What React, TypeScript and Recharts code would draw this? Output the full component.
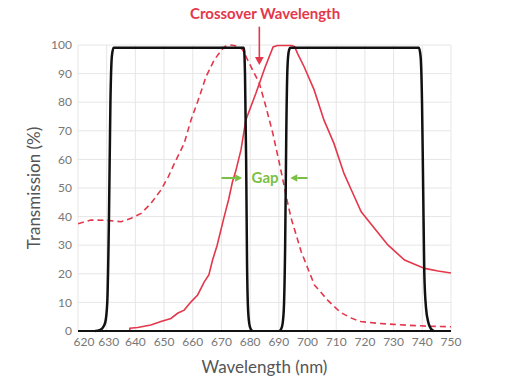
import React from "react";
import {
  LineChart,
  Line,
  XAxis,
  YAxis,
  CartesianGrid,
  ReferenceLine,
  ReferenceDot,
  Label,
} from "recharts";

// filter transmission bands (black)
const filterAX = [626, 627.5, 628.5, 629.5, 630.2, 630.8, 631.3, 631.8, 632.4, 677.8, 678.2, 678.6, 678.9, 679.3, 679.9, 680.7];
const filterAY = [0, 0.3, 1, 3, 10, 40, 80, 96, 99, 99, 90, 60, 25, 7, 1.5, 0];
const filterBX = [690.3, 691.1, 691.7, 692.2, 692.6, 693, 693.5, 694, 738.8, 739.4, 739.9, 740.3, 740.7, 741.3, 742.1, 743, 744];
const filterBY = [0, 1.5, 7, 30, 70, 92, 98, 99, 99, 96, 80, 50, 20, 8, 3, 0.8, 0];

// excitation spectrum (dashed red)
const dashX = [620, 624.5, 630, 635, 638.5, 642, 645.4, 648.9, 651.5, 653.6, 657, 659.4, 662.3, 664.6, 667.5, 669.5, 671, 673, 674.4, 676, 677.4, 679.7, 683.2, 685.5, 687.9, 690.2, 691.9, 692.7, 694.3, 697.8, 702.4, 707, 711.5, 715.3, 718.5, 724.3, 730, 735.3, 741.5, 750];
const dashY = [37.5, 38.8, 38.7, 38.2, 39.4, 41.1, 44.6, 49.3, 54, 58.6, 65.6, 73.8, 81.9, 88.9, 94.8, 97.5, 99.4, 100, 99.8, 99.5, 98.3, 93.6, 86.6, 78.4, 69.1, 58.6, 50.5, 46.4, 39.4, 27.7, 16.1, 10.8, 6.5, 4.5, 3.3, 2.7, 2.3, 2, 1.7, 1.5];

// emission spectrum (solid red)
const solidX = [638, 638.1, 640.8, 645.4, 648.9, 652.4, 654.7, 657, 659.4, 661.7, 664, 665.6, 666.9, 668.5, 670.8, 672.5, 673.8, 675, 676.8, 678.5, 682, 685.3, 688, 689.5, 694.5, 695.5, 696.5, 698.8, 702.3, 705.7, 709.2, 712.7, 715, 718.7, 723.3, 728, 733.8, 740.8, 745.5, 750];
const solidY = [0, 1, 1.2, 2.1, 3.3, 4.4, 6.2, 7.3, 10.2, 12.6, 17.2, 19.6, 24.8, 30, 39.4, 46, 52, 56, 63.3, 73.8, 83.1, 92.5, 99.3, 99.8, 99.8, 99.4, 97.1, 92.4, 84.3, 73.8, 65.6, 55.1, 49.9, 41.7, 35.9, 30.1, 24.8, 21.9, 21, 20.3];

const xTicks = [620, 630, 640, 650, 660, 670, 680, 690, 700, 710, 720, 730, 740, 750];
const yTicks = [0, 10, 20, 30, 40, 50, 60, 70, 80, 90, 100];

const RED = "#e4374b";
const GREEN = "#7bbf45";
const FONT = "Lato, 'Open Sans', sans-serif";

const zip = (xs: number[], ys: number[]) => xs.map((x, i) => ({ x, v: ys[i] }));

function arrowShape(color: string, width: number, head: number) {
  return (props: any) => {
    const { x1, y1, x2, y2 } = props;
    const dx = x2 - x1;
    const dy = y2 - y1;
    const len = Math.hypot(dx, dy) || 1;
    const ux = dx / len;
    const uy = dy / len;
    const bx = x2 - ux * head;
    const by = y2 - uy * head;
    const hw = head * 0.55;
    return (
      <g>
        <line x1={x1} y1={y1} x2={bx} y2={by} stroke={color} strokeWidth={width} />
        <polygon
          points={`${x2},${y2} ${bx - uy * hw},${by + ux * hw} ${bx + uy * hw},${by - ux * hw}`}
          fill={color}
        />
      </g>
    );
  };
}

// first wavelength label sits a little right of the corner, clear of the "0"
const WaveTick = (props: any) => {
  const { x, y, payload } = props;
  const shift = payload.value === 620 ? 6 : payload.value === 630 ? 2 : 0;
  return (
    <text x={x + shift} y={y} dy="0.71em" textAnchor="middle" fontSize={12} fill="#777" fontFamily={FONT}>
      {payload.value}
    </text>
  );
};

export default function App() {
  return (
    <div style={{ position: "absolute", left: 0, top: 0, width: 532, height: 386, background: "#fff" }}>
      <LineChart width={532} height={386} margin={{ top: 45, right: 81, bottom: 13, left: 0 }}>
        <CartesianGrid stroke="#e6e6e6" strokeWidth={1} />
        <XAxis
          dataKey="x"
          type="number"
          domain={[620, 750]}
          ticks={xTicks}
          interval={0}
          allowDataOverflow
          height={42}
          axisLine={{ stroke: "#111", strokeWidth: 2 }}
          tickLine={false}
          tickSize={0}
          tickMargin={6}
          tick={<WaveTick />}
        >
          <Label
            value="Wavelength (nm)"
            position="insideBottom"
            offset={0}
            style={{ fontSize: 17, fill: "#555", fontFamily: FONT }}
          />
        </XAxis>
        <YAxis
          type="number"
          domain={[0, 100]}
          ticks={yTicks}
          interval={0}
          width={78}
          axisLine={false}
          tickLine={false}
          tickSize={0}
          tickMargin={6}
          tick={{ fontSize: 12, fill: "#777", fontFamily: FONT }}
        >
          <Label
            content={({ viewBox }: any) => (
              <text
                x={33}
                y={viewBox.y + viewBox.height / 2}
                transform={`rotate(-90 33 ${viewBox.y + viewBox.height / 2})`}
                textAnchor="middle"
                dominantBaseline="central"
                fontSize={17}
                fill="#555"
                fontFamily={FONT}
              >
                Transmission (%)
              </text>
            )}
          />
        </YAxis>

        <Line
          data={zip(dashX, dashY)}
          dataKey="v"
          type="linear"
          stroke={RED}
          strokeWidth={1.6}
          strokeDasharray="6 4"
          dot={false}
          isAnimationActive={false}
        />
        <Line
          data={zip(solidX, solidY)}
          dataKey="v"
          type="linear"
          stroke={RED}
          strokeWidth={1.6}
          dot={false}
          isAnimationActive={false}
        />
        <Line
          data={zip(filterAX, filterAY)}
          dataKey="v"
          type="monotone"
          stroke="#111"
          strokeWidth={2.5}
          dot={false}
          isAnimationActive={false}
        />
        <Line
          data={zip(filterBX, filterBY)}
          dataKey="v"
          type="monotone"
          stroke="#111"
          strokeWidth={2.5}
          dot={false}
          isAnimationActive={false}
        />

        <ReferenceLine
          segment={[{ x: 683.2, y: 106.4 }, { x: 683.2, y: 93 }]}
          ifOverflow="visible"
          shape={arrowShape(RED, 1.6, 8)}
        />
        <ReferenceDot
          x={685.2}
          y={110.8}
          r={0}
          fill="none"
          stroke="none"
          ifOverflow="visible"
          label={{
            value: "Crossover Wavelength",
            position: "center",
            fill: RED,
            fontSize: 15,
            fontWeight: 700,
            fontFamily: FONT,
          }}
        />
        <ReferenceLine
          segment={[{ x: 670, y: 53.5 }, { x: 677.2, y: 53.5 }]}
          ifOverflow="visible"
          shape={arrowShape(GREEN, 2, 7)}
        />
        <ReferenceLine
          segment={[{ x: 700, y: 53.5 }, { x: 694, y: 53.5 }]}
          ifOverflow="visible"
          shape={arrowShape(GREEN, 2, 7)}
        />
        <ReferenceDot
          x={685.2}
          y={53.5}
          r={0}
          fill="none"
          stroke="none"
          ifOverflow="visible"
          label={{
            value: "Gap",
            position: "center",
            fill: GREEN,
            fontSize: 15,
            fontWeight: 700,
            fontFamily: FONT,
          }}
        />
      </LineChart>
    </div>
  );
}
